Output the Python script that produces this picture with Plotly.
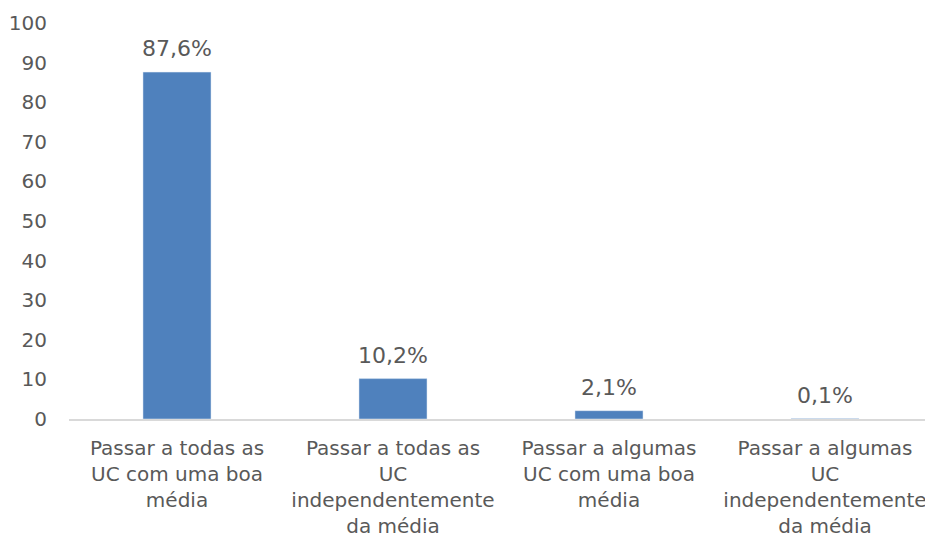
import plotly.graph_objects as go

categories = [
    "Passar a todas as<br>UC com uma boa<br>média",
    "Passar a todas as<br>UC<br>independentemente<br>da média",
    "Passar a algumas<br>UC com uma boa<br>média",
    "Passar a algumas<br>UC<br>independentemente<br>da média",
]
values = [87.6, 10.2, 2.1, 0.1]
y_ticks = [0, 10, 20, 30, 40, 50, 60, 70, 80, 90, 100]

labels = [f"{v:.1f}".replace(".", ",") + "%" for v in values]

font_family = "Verdana, DejaVu Sans, sans-serif"
gray = "#595959"

fig = go.Figure(go.Bar(
    x=categories,
    y=values,
    marker_color="#4F81BD",
    width=0.315,
))

for c, v, t in zip(categories, values, labels):
    fig.add_annotation(
        x=c, y=v, text=t, showarrow=False, yanchor="bottom",
        yshift=9, font=dict(family=font_family, size=22, color=gray),
    )

fig.update_layout(
    width=933, height=533,
    margin=dict(l=61, r=8, t=15, b=122, autoexpand=False),
    paper_bgcolor="white", plot_bgcolor="white",
    showlegend=False,
    font=dict(family=font_family, size=20, color=gray),
)
fig.update_xaxes(
    showline=True, linecolor="#D9D9D9", linewidth=1.5,
    showgrid=False, ticks="", ticklabelstandoff=10, automargin=False,
    tickfont=dict(family=font_family, size=20, color=gray),
)
fig.update_yaxes(
    range=[0, 100], tickvals=y_ticks, showgrid=False, zeroline=False,
    showline=False, ticks="", ticklabelstandoff=21, automargin=False,
    tickfont=dict(family=font_family, size=20, color=gray),
)

fig.write_html("out.html")
